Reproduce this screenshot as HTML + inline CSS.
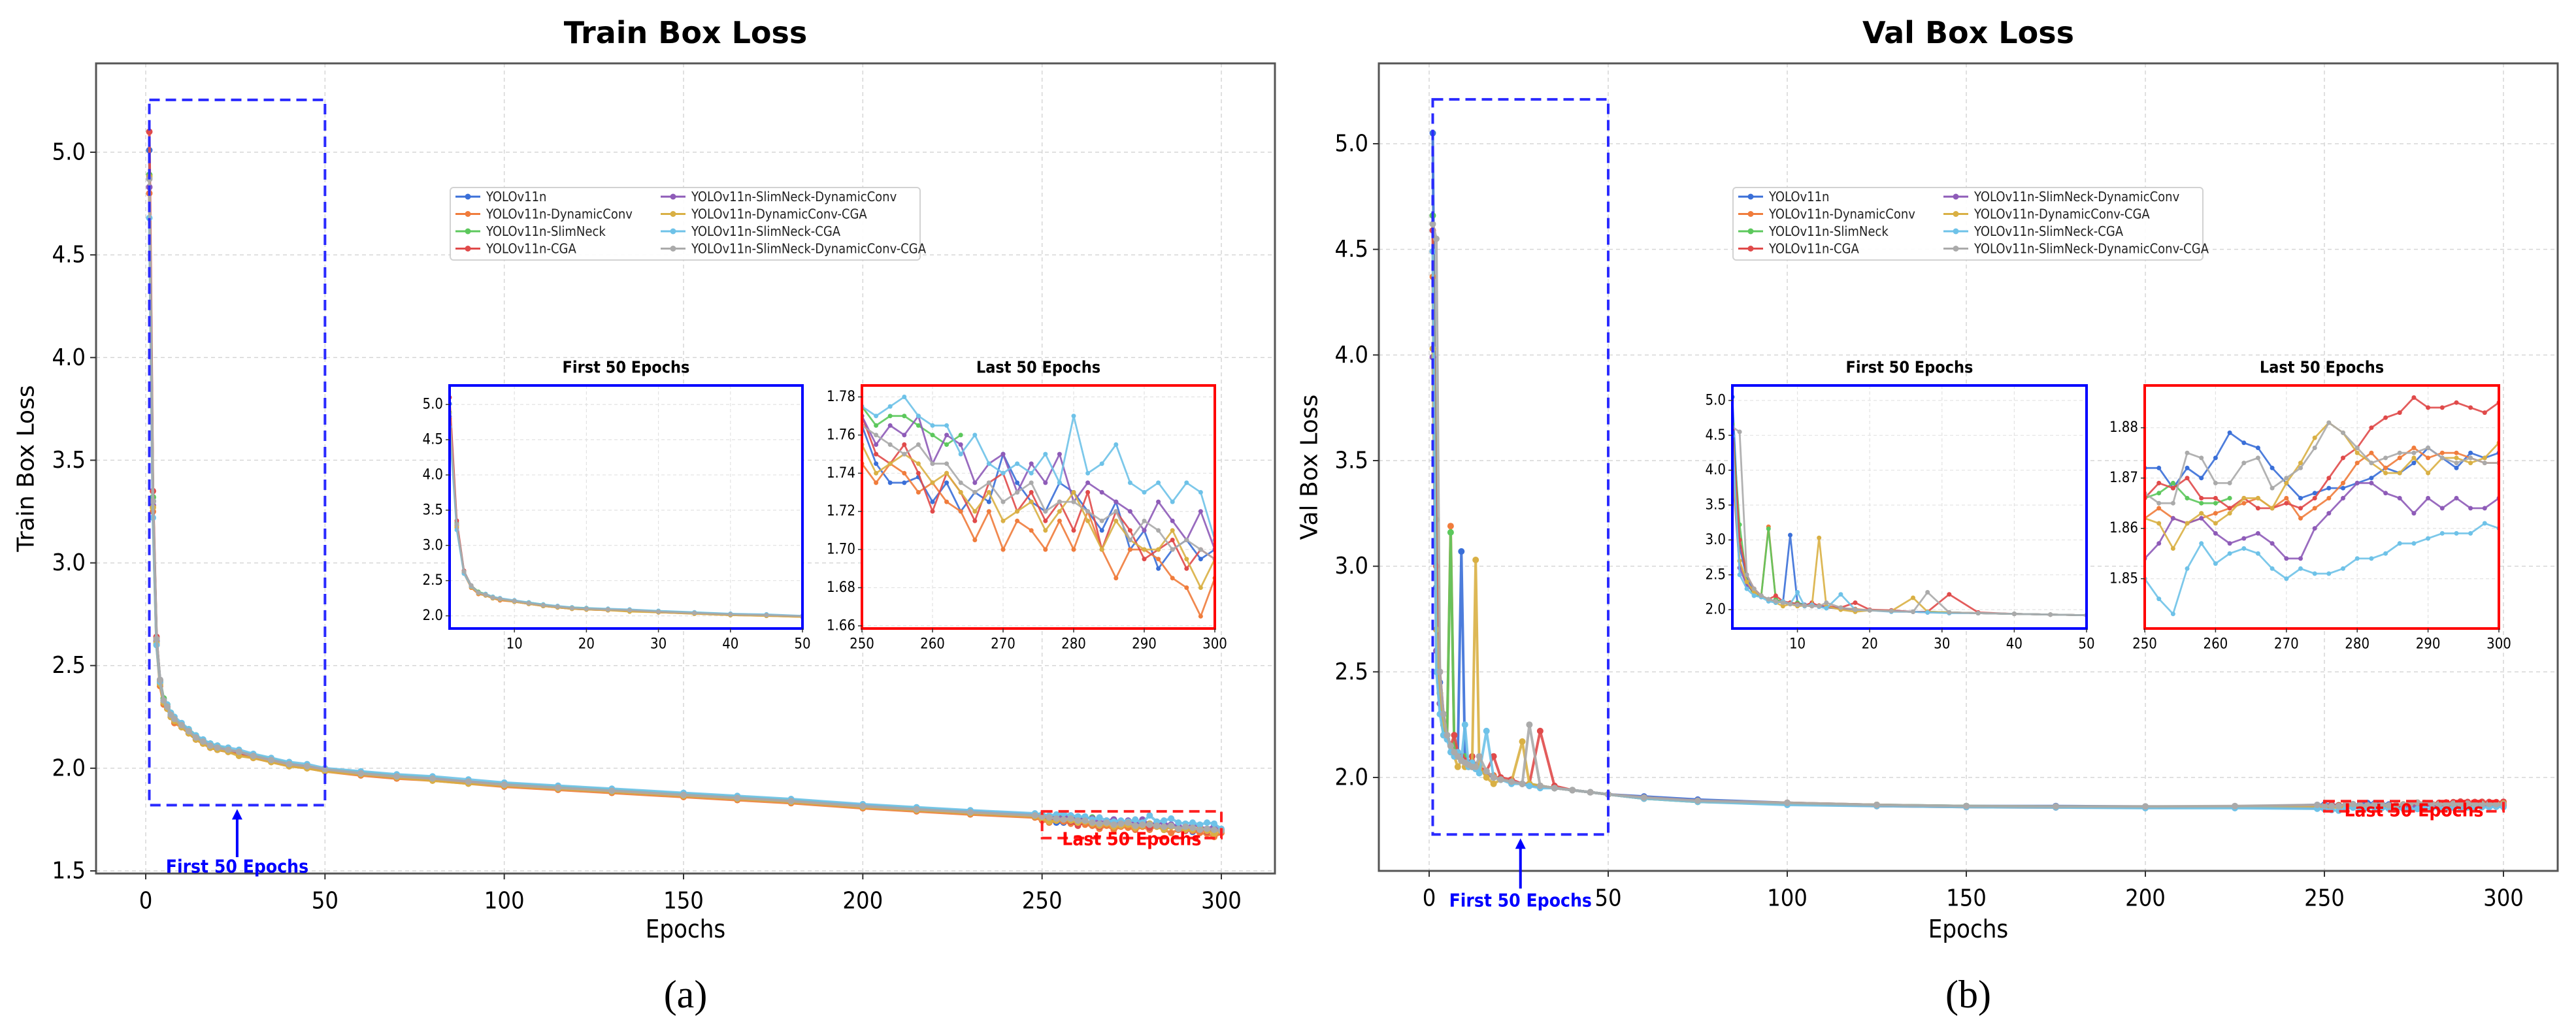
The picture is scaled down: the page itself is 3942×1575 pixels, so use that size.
<!DOCTYPE html>
<html><head><meta charset="utf-8">
<style>
html,body{margin:0;padding:0;background:#fff;}
svg{display:block;}
</style></head>
<body>
<svg id="fig" width="3942" height="1575" viewBox="0 0 3942 1575" xmlns="http://www.w3.org/2000/svg" font-family="Liberation Sans, sans-serif">
<rect x="0" y="0" width="3942" height="1575" fill="#fff"/>
</svg>
<script>
// ---------- data ----------
const seriesNames = ["YOLOv11n","YOLOv11n-DynamicConv","YOLOv11n-SlimNeck","YOLOv11n-CGA","YOLOv11n-SlimNeck-DynamicConv","YOLOv11n-DynamicConv-CGA","YOLOv11n-SlimNeck-CGA","YOLOv11n-SlimNeck-DynamicConv-CGA"];
const lastEpochs = [250,252,254,256,258,260,262,264,266,268,270,272,274,276,278,280,282,284,286,288,290,292,294,296,298,300];

const trainEpochs = [1,2,3,4,5,6,7,8,10,12,14,16,18,20,23,26,30,35,40,45,50,60,70,80,90,100,115,130,150,165,180,200,215,230,248];
const trainBlue   = [5.01,3.30,2.62,2.42,2.33,2.30,2.26,2.24,2.21,2.18,2.15,2.13,2.11,2.10,2.09,2.08,2.06,2.04,2.02,2.01,1.99,1.975,1.96,1.95,1.93,1.92,1.905,1.89,1.87,1.855,1.84,1.815,1.80,1.785,1.77];
const trainOrange = [4.80,3.25,2.60,2.40,2.31,2.29,2.25,2.22,2.20,2.17,2.14,2.12,2.10,2.09,2.08,2.07,2.05,2.03,2.01,2.00,1.985,1.965,1.95,1.94,1.925,1.91,1.895,1.88,1.86,1.845,1.83,1.805,1.79,1.775,1.76];
const trainGreen  = [4.89,3.32,2.63,2.43,2.34,2.31,2.27,2.24,2.21,2.19,2.16,2.13,2.12,2.11,2.09,2.08,2.065,2.045,2.025,2.01,1.995,1.98,1.965,1.955,1.935,1.925,1.91,1.895,1.875,1.86,1.845,1.82,1.805,1.79,1.775];
const trainRed    = [5.10,3.35,2.64,2.42,2.32,2.29,2.25,2.23,2.20,2.17,2.14,2.12,2.10,2.09,2.08,2.07,2.05,2.035,2.015,2.005,1.99,1.97,1.955,1.945,1.93,1.915,1.90,1.885,1.865,1.85,1.835,1.81,1.795,1.78,1.765];
const trainPurple = [4.83,3.28,2.62,2.43,2.33,2.30,2.26,2.24,2.21,2.18,2.15,2.13,2.11,2.10,2.09,2.08,2.06,2.04,2.02,2.01,1.995,1.975,1.96,1.95,1.935,1.92,1.905,1.89,1.87,1.855,1.84,1.82,1.80,1.79,1.775];
const trainYellow = [4.88,3.27,2.61,2.41,2.32,2.29,2.25,2.23,2.20,2.17,2.14,2.12,2.10,2.09,2.08,2.06,2.05,2.03,2.01,2.00,1.985,1.97,1.955,1.94,1.925,1.915,1.90,1.885,1.865,1.85,1.835,1.81,1.795,1.78,1.765];
const trainCyan   = [4.68,3.22,2.60,2.42,2.33,2.31,2.27,2.25,2.22,2.19,2.16,2.14,2.12,2.11,2.10,2.09,2.07,2.05,2.03,2.02,2.00,1.985,1.97,1.96,1.945,1.93,1.915,1.90,1.88,1.865,1.85,1.825,1.81,1.795,1.78];
const trainGray   = [4.87,3.30,2.63,2.43,2.33,2.30,2.26,2.24,2.21,2.18,2.15,2.13,2.11,2.10,2.09,2.08,2.06,2.04,2.02,2.01,1.995,1.975,1.96,1.95,1.935,1.92,1.905,1.89,1.87,1.855,1.84,1.815,1.80,1.785,1.77];

const trainLastBlue   = [1.765,1.745,1.735,1.735,1.738,1.725,1.735,1.72,1.73,1.725,1.75,1.735,1.725,1.72,1.735,1.73,1.72,1.71,1.725,1.70,1.71,1.69,1.70,1.705,1.695,1.70];
const trainLastOrange = [1.745,1.735,1.745,1.74,1.73,1.735,1.725,1.72,1.705,1.72,1.70,1.715,1.71,1.70,1.715,1.70,1.72,1.70,1.685,1.70,1.70,1.695,1.685,1.68,1.665,1.685];
const trainLastGreen  = [1.775,1.765,1.77,1.77,1.765,1.76,1.755,1.76];
const trainLastRed    = [1.77,1.75,1.745,1.755,1.74,1.72,1.74,1.73,1.715,1.735,1.74,1.72,1.73,1.715,1.725,1.71,1.73,1.70,1.72,1.71,1.695,1.70,1.705,1.69,1.70,1.695];
const trainLastPurple = [1.77,1.755,1.765,1.76,1.77,1.745,1.76,1.755,1.735,1.745,1.75,1.73,1.745,1.735,1.75,1.725,1.735,1.73,1.725,1.72,1.71,1.725,1.715,1.705,1.72,1.70];
const trainLastYellow = [1.755,1.74,1.745,1.75,1.745,1.735,1.74,1.73,1.72,1.73,1.715,1.72,1.725,1.71,1.72,1.73,1.715,1.70,1.715,1.705,1.70,1.70,1.71,1.695,1.68,1.695];
const trainLastCyan   = [1.775,1.77,1.775,1.78,1.77,1.765,1.765,1.75,1.76,1.745,1.74,1.745,1.74,1.75,1.735,1.77,1.74,1.745,1.755,1.735,1.73,1.735,1.725,1.735,1.73,1.705];
const trainLastGray   = [1.765,1.76,1.755,1.75,1.755,1.745,1.745,1.735,1.73,1.735,1.725,1.73,1.735,1.72,1.725,1.725,1.72,1.715,1.72,1.705,1.715,1.71,1.70,1.705,1.70,1.695];

const valEpochs = [1,2,3,4,5,6,7,8,9,10,11,12,13,14,16,18,20,23,26,28,31,35,40,45,50,60,75,100,125,150,175,200,225,248];
const valBlue   = [5.05,2.9,2.45,2.25,2.2,2.15,2.12,2.1,3.07,2.1,2.07,2.06,2.05,2.04,2.02,2.0,1.99,1.98,1.97,1.97,1.96,1.95,1.94,1.93,1.92,1.91,1.895,1.88,1.87,1.865,1.865,1.862,1.86,1.87];
const valOrange = [4.37,2.7,2.35,2.3,2.2,3.19,2.15,2.1,2.1,2.08,2.05,2.07,2.06,2.04,2.02,2.01,1.99,1.98,1.97,1.96,1.96,1.95,1.94,1.93,1.92,1.905,1.89,1.88,1.87,1.862,1.86,1.86,1.862,1.866];
const valGreen  = [4.66,3.22,2.4,2.2,2.2,3.16,2.15,2.1,2.08,2.1,2.06,2.06,2.05,2.03,2.02,2.0,1.99,1.98,1.97,1.97,1.96,1.95,1.94,1.93,1.92,1.9,1.885,1.875,1.87,1.865,1.862,1.86,1.86,1.865];
const valRed    = [4.59,3.0,2.5,2.3,2.2,2.15,2.2,2.12,2.1,2.08,2.06,2.1,2.05,2.05,2.03,2.1,2.0,1.99,1.97,1.97,2.22,1.96,1.94,1.93,1.92,1.905,1.89,1.875,1.865,1.86,1.858,1.858,1.86,1.866];
const valPurple = [3.99,2.6,2.35,2.25,2.2,2.15,2.12,2.1,2.08,2.07,2.06,2.05,2.05,2.03,2.02,2.0,1.99,1.98,1.97,1.96,1.96,1.95,1.94,1.93,1.92,1.9,1.89,1.875,1.87,1.862,1.86,1.86,1.86,1.855];
const valYellow = [4.03,2.7,2.4,2.25,2.2,2.15,2.1,2.05,2.08,2.05,2.06,2.05,3.03,2.05,2.0,1.97,1.99,1.98,2.17,1.97,1.96,1.95,1.94,1.93,1.92,1.9,1.885,1.875,1.87,1.862,1.86,1.86,1.86,1.862];
const valCyan   = [4.49,2.5,2.3,2.2,2.18,2.12,2.1,2.12,2.08,2.25,2.05,2.07,2.04,2.02,2.22,2.0,1.99,1.97,1.97,1.96,1.95,1.95,1.94,1.93,1.92,1.9,1.885,1.87,1.865,1.86,1.858,1.855,1.855,1.852];
const valGray   = [4.62,4.55,2.5,2.3,2.2,2.15,2.12,2.1,2.08,2.07,2.06,2.05,2.05,2.1,2.03,2.0,1.99,1.98,1.97,2.25,1.96,1.95,1.94,1.93,1.92,1.905,1.89,1.88,1.87,1.865,1.863,1.863,1.865,1.87];

const valLastBlue   = [1.872,1.872,1.868,1.872,1.87,1.874,1.879,1.877,1.876,1.872,1.869,1.866,1.867,1.868,1.868,1.869,1.87,1.872,1.871,1.873,1.876,1.874,1.872,1.875,1.874,1.875];
const valLastOrange = [1.862,1.864,1.862,1.861,1.862,1.863,1.864,1.865,1.866,1.864,1.866,1.862,1.864,1.866,1.869,1.873,1.875,1.872,1.874,1.876,1.874,1.875,1.875,1.874,1.873,1.873];
const valLastGreen  = [1.866,1.867,1.869,1.866,1.865,1.865,1.866];
const valLastRed    = [1.866,1.869,1.868,1.87,1.866,1.866,1.864,1.866,1.864,1.864,1.865,1.864,1.866,1.87,1.874,1.876,1.88,1.882,1.883,1.886,1.884,1.884,1.885,1.884,1.883,1.885];
const valLastPurple = [1.854,1.857,1.862,1.861,1.862,1.859,1.857,1.858,1.859,1.857,1.854,1.854,1.86,1.863,1.866,1.869,1.869,1.867,1.866,1.863,1.866,1.864,1.866,1.864,1.864,1.866];
const valLastYellow = [1.862,1.861,1.856,1.861,1.863,1.861,1.863,1.866,1.866,1.864,1.869,1.873,1.878,1.881,1.879,1.875,1.873,1.871,1.871,1.874,1.871,1.874,1.874,1.873,1.874,1.877];
const valLastCyan   = [1.85,1.846,1.843,1.852,1.857,1.853,1.855,1.856,1.855,1.852,1.85,1.852,1.851,1.851,1.852,1.854,1.854,1.855,1.857,1.857,1.858,1.859,1.859,1.859,1.861,1.86];
const valLastGray   = [1.867,1.865,1.865,1.875,1.874,1.869,1.869,1.873,1.874,1.868,1.87,1.872,1.876,1.881,1.879,1.876,1.873,1.874,1.875,1.875,1.876,1.874,1.873,1.874,1.873,1.873];

const trainMainYTicks = [1.5,2.0,2.5,3.0,3.5,4.0,4.5,5.0];
const valMainYTicks = [2.0,2.5,3.0,3.5,4.0,4.5,5.0];
const mainXTicks = [0,50,100,150,200,250,300];
const firstXTicks = [10,20,30,40,50];
const firstYTicks = [2.0,2.5,3.0,3.5,4.0,4.5,5.0];
const lastXTicks = [250,260,270,280,290,300];
const trainLastYTicks = [1.66,1.68,1.70,1.72,1.74,1.76,1.78];
const valLastYTicks = [1.85,1.86,1.87,1.88];

// ---------- drawing ----------
const colors = ["#3a6fd8","#f07c3c","#5cc85c","#e04a4a","#8e5bb8","#d9b044","#6ec2e8","#aaaaaa"];
const NARROW = '"Liberation Sans Narrow","DejaVu Sans Condensed","Liberation Sans",sans-serif';
const DEJAVU = '"DejaVu Sans","Liberation Sans",sans-serif';
const NS = "http://www.w3.org/2000/svg";
const svg = document.getElementById("fig");
function el(tag, attrs, parent){
  const e = document.createElementNS(NS, tag);
  for (const k in attrs) e.setAttribute(k, attrs[k]);
  (parent||svg).appendChild(e);
  return e;
}
function txt(s, x, y, size, opts, parent){
  opts = opts||{};
  const t = el("text", {x:x, y:y, "font-size":size, "text-anchor":opts.anchor||"middle", "dominant-baseline":"central", fill:opts.fill||"#000", "font-weight":opts.weight||"normal"}, parent);
  t.setAttribute("font-family", opts.family || '"Liberation Sans",sans-serif');
  if (opts.rotate) t.setAttribute("transform", "rotate(-90 "+x+" "+y+")");
  t.textContent = s;
  return t;
}
function scale(d0,d1,r0,r1){ return v => r0 + (v-d0)*(r1-r0)/(d1-d0); }

function drawSeries(g, xs, ys, X, Y, color, r, w){
  const pts = [];
  for (let i=0;i<ys.length && i<xs.length;i++){ if (ys[i]==null) break; pts.push([X(xs[i]),Y(ys[i])]); }
  const pl = el("polyline", {points: pts.map(p=>p[0].toFixed(1)+","+p[1].toFixed(1)).join(" "), fill:"none", stroke:color, "stroke-width":w, "stroke-linejoin":"round", opacity:0.9}, g);
  
  
  pts.forEach(p => {
    const c = el("circle", {cx:p[0].toFixed(1), cy:p[1].toFixed(1), r:r, fill:color}, g);
    
    
  });
}

function panel(cfg){
  const g = el("g", {});
  
  
  const X = scale(0,300,cfg.x0,cfg.x300);
  const Y = scale(cfg.yA, cfg.yB, cfg.pyA, cfg.pyB);
  const L=cfg.frame[0], T=cfg.frame[1], R=cfg.frame[2], B=cfg.frame[3];
  const clipId = cfg.name+"-clip";
  const cp = el("clipPath", {id:clipId}, g); el("rect",{x:L,y:T,width:R-L,height:B-T},cp);
  mainXTicks.forEach(t => { const l = el("line",{x1:X(t),x2:X(t),y1:T,y2:B,stroke:"#d6d6d6","stroke-width":1.5,"stroke-dasharray":"6,5"},g);   });
  cfg.yTicks.forEach(t => { const l = el("line",{x1:L,x2:R,y1:Y(t),y2:Y(t),stroke:"#d6d6d6","stroke-width":1.5,"stroke-dasharray":"6,5"},g);   });
  const sg = el("g",{"clip-path":"url(#"+clipId+")"},g);
  
  
  cfg.main.forEach((vals,i) => {
    const xs = cfg.epochs.concat(lastEpochs);
    const ys = vals.concat(cfg.last[i]);
    drawSeries(sg, xs, ys, X, Y, colors[i], 5, 4);
  });
  const fr = el("rect",{x:L,y:T,width:R-L,height:B-T,fill:"none",stroke:"#555","stroke-width":3},g);
  
  
  mainXTicks.forEach(t => {
    el("line",{x1:X(t),x2:X(t),y1:B,y2:B+9,stroke:"#333","stroke-width":2},g);
    const tl = txt(String(t), X(t), B+42, 36, {family:NARROW}, g);
    
    
  });
  cfg.yTicks.forEach(t => {
    el("line",{x1:L-9,x2:L,y1:Y(t),y2:Y(t),stroke:"#333","stroke-width":2},g);
    const tl = txt(t.toFixed(1), L-16, Y(t), 36, {anchor:"end", family:NARROW}, g);
    
    
  });
  const ti = txt(cfg.title, (L+R)/2, 50, 46, {weight:"bold", family:DEJAVU}, g);
  
  
  const xl = txt("Epochs", (L+R)/2, 1422, 38, {family:NARROW}, g);
  
  
  const yl = txt(cfg.ylabel, cfg.ylabelX, (T+B)/2, 36, {rotate:true, family:DEJAVU}, g);
  
  
  const cap = txt(cfg.caption, (L+R)/2, 1522, 60, {family:'"Liberation Serif",serif'}, g);
  
  
  const bb = el("rect",{x:X(1),y:Y(cfg.blueBox[1]),width:X(50)-X(1),height:Y(cfg.blueBox[0])-Y(cfg.blueBox[1]),fill:"none",stroke:"#2a2aff","stroke-width":4,"stroke-dasharray":"16,9"},g);
  
  
  const ax = X(25.5);
  el("line",{x1:ax,x2:ax,y1:cfg.arrowY0,y2:Y(cfg.blueBox[0])+18,stroke:"#0000ff","stroke-width":4},g);
  const ah = el("polygon",{points:(ax-8)+","+(Y(cfg.blueBox[0])+22)+" "+(ax+8)+","+(Y(cfg.blueBox[0])+22)+" "+ax+","+(Y(cfg.blueBox[0])+6),fill:"#0000ff"},g);
  
  
  const ft = txt("First 50 Epochs", ax, cfg.firstTextY, 28, {weight:"bold", fill:"#0000ff", family:NARROW}, g);
  
  
  const rb = el("rect",{x:X(250),y:Y(cfg.redBox[1]),width:X(300)-X(250),height:Y(cfg.redBox[0])-Y(cfg.redBox[1]),fill:"none",stroke:"#ff2020","stroke-width":4,"stroke-dasharray":"16,9"},g);
  
  
  const lt = txt("Last 50 Epochs", X(275), cfg.lastTextY, 28, {weight:"bold", fill:"#ff0000", family:NARROW}, g);
  
  
  const lg = el("g",{},g);
  
  
  const lx = cfg.legend[0], ly = cfg.legend[1];
  el("rect",{x:lx,y:ly,width:719,height:111,rx:5,fill:"#fff",stroke:"#d0d0d0","stroke-width":2,opacity:0.95},lg);
  seriesNames.forEach((n,i) => {
    const col = Math.floor(i/4), row = i%4;
    const ex = lx + 8 + col*314, ey = ly + 14 + row*26.5;
    el("line",{x1:ex,x2:ex+38,y1:ey,y2:ey,stroke:colors[i],"stroke-width":3},lg);
    el("circle",{cx:ex+19,cy:ey,r:4.5,fill:colors[i]},lg);
    const t = txt(n, ex+47, ey, 20, {anchor:"start", fill:"#222", family:NARROW}, lg);
    
    
  });
  inset(g, cfg.first, "First 50 Epochs", "#0000ff", cfg.epochs, cfg.main, firstXTicks, firstYTicks, 1);
  inset(g, cfg.lastI, "Last 50 Epochs", "#ff0000", lastEpochs, cfg.last, lastXTicks, cfg.lastYTicks, 2);
}

function inset(parent, r, title, color, xs, data, xt, yt, dec){
  const g = el("g",{},parent);
  
  
  const L=r.box[0],T=r.box[1],R=r.box[2],B=r.box[3];
  const X = scale(r.xd[0],r.xd[1],L,R);
  const Y = scale(r.yd[0],r.yd[1],B,T);
  el("rect",{x:L,y:T,width:R-L,height:B-T,fill:"#fff"},g);
  xt.forEach(t => el("line",{x1:X(t),x2:X(t),y1:T,y2:B,stroke:"#e2e2e2","stroke-width":1.2,"stroke-dasharray":"5,4"},g));
  yt.forEach(t => el("line",{x1:L,x2:R,y1:Y(t),y2:Y(t),stroke:"#e2e2e2","stroke-width":1.2,"stroke-dasharray":"5,4"},g));
  const id = "clip"+Math.round(L);
  const cp = el("clipPath",{id:id},g); el("rect",{x:L,y:T,width:R-L,height:B-T},cp);
  const sg = el("g",{"clip-path":"url(#"+id+")"},g);
  data.forEach((vals,i) => drawSeries(sg, xs, vals, X, Y, colors[i], 3.5, 2.8));
  const fr = el("rect",{x:L,y:T,width:R-L,height:B-T,fill:"none",stroke:color,"stroke-width":4},g);
  
  
  xt.forEach(t => {
    el("line",{x1:X(t),x2:X(t),y1:B,y2:B+6,stroke:"#333","stroke-width":1.5},g);
    const tl = txt(String(t), X(t), B+24, 22, {family:NARROW}, g);
    
    
  });
  yt.forEach(t => {
    el("line",{x1:L-6,x2:L,y1:Y(t),y2:Y(t),stroke:"#333","stroke-width":1.5},g);
    const tl = txt(t.toFixed(dec), L-10, Y(t), 22, {anchor:"end", family:NARROW}, g);
    
    
  });
  const tt = txt(title, (L+R)/2, T-28, 25, {weight:"bold", family:NARROW}, g);
  
  
}

panel({
  name:"train-box-loss-panel", title:"Train Box Loss", ylabel:"Train Box Loss", caption:"(a)", ylabelX:40,
  x0:223, x300:1869, yA:5.0, yB:1.5, pyA:233, pyB:1333, frame:[147,97,1951,1337],
  yTicks:trainMainYTicks, epochs:trainEpochs,
  main:[trainBlue,trainOrange,trainGreen,trainRed,trainPurple,trainYellow,trainCyan,trainGray],
  last:[trainLastBlue,trainLastOrange,trainLastGreen,trainLastRed,trainLastPurple,trainLastYellow,trainLastCyan,trainLastGray],
  blueBox:[1.82,5.255], redBox:[1.66,1.79], arrowY0:1312, firstTextY:1326, lastTextY:1284,
  legend:[689,287],
  first:{box:[688,590,1228,962], xd:[1,50], yd:[1.82,5.27]},
  lastI:{box:[1319,590,1859,962], xd:[250,300], yd:[1.6586,1.786]},
  lastYTicks:trainLastYTicks
});
panel({
  name:"val-box-loss-panel", title:"Val Box Loss", ylabel:"Val Box Loss", caption:"(b)", ylabelX:2004,
  x0:2187, x300:3831, yA:5.0, yB:2.0, pyA:220, pyB:1190, frame:[2110,97,3914,1333],
  yTicks:valMainYTicks, epochs:valEpochs,
  main:[valBlue,valOrange,valGreen,valRed,valPurple,valYellow,valCyan,valGray],
  last:[valLastBlue,valLastOrange,valLastGreen,valLastRed,valLastPurple,valLastYellow,valLastCyan,valLastGray],
  blueBox:[1.73,5.21], redBox:[1.84,1.888], arrowY0:1360, firstTextY:1378, lastTextY:1240,
  legend:[2652,287],
  first:{box:[2651,590,3193,962], xd:[1,50], yd:[1.73,5.215]},
  lastI:{box:[3282,590,3824,962], xd:[250,300], yd:[1.8401,1.8884]},
  lastYTicks:valLastYTicks
});
</script>
</body></html>
